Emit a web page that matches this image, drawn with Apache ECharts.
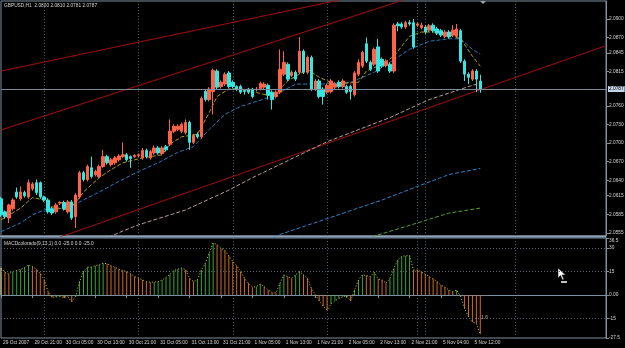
<!DOCTYPE html>
<html>
<head>
<meta charset="utf-8">
<script src="https://cdn.jsdelivr.net/npm/echarts@6/dist/echarts.min.js"></script>
<style>
  html, body { margin: 0; padding: 0; background: #000; }
  #chart { width: 625px; height: 348px; }
</style>
</head>
<body>
<div id="chart"></div>
<script>
// ===================================================
//  DATOS  (GBPUSD H1, 29 Oct 2007 - 5 Nov 2007)
// ===================================================
const timeTicks = ['29 Oct 2007', '29 Oct 21:00', '30 Oct 05:00', '30 Oct 13:00', '30 Oct 21:00',
  '31 Oct 05:00', '31 Oct 13:00', '31 Oct 21:00', '1 Nov 05:00', '1 Nov 13:00', '1 Nov 21:00',
  '2 Nov 05:00', '2 Nov 13:00', '2 Nov 21:00', '5 Nov 04:00', '5 Nov 12:00'];

const opens = [
  2.0610, 2.0589, 2.0579, 2.0594, 2.0621, 2.0610, 2.0620, 2.0613, 2.0626, 2.0636,
  2.0636, 2.0613, 2.0608, 2.0594, 2.0589, 2.0603, 2.0604, 2.0589, 2.0605, 2.0581,
  2.0613, 2.0652, 2.0641, 2.0660, 2.0649, 2.0646, 2.0662, 2.0678, 2.0665, 2.0668,
  2.0673, 2.0678, 2.0681, 2.0678, 2.0678, 2.0680, 2.0676, 2.0688, 2.0676, 2.0684,
  2.0692, 2.0683, 2.0694, 2.0698, 2.0719, 2.0722, 2.0719, 2.0717, 2.0733, 2.0701,
  2.0714, 2.0710, 2.0783, 2.0770, 2.0783, 2.0816, 2.0791, 2.0795, 2.0813, 2.0798,
  2.0791, 2.0791, 2.0785, 2.0787, 2.0787, 2.0786, 2.0788, 2.0790, 2.0793, 2.0782,
  2.0775, 2.0782, 2.0811, 2.0827, 2.0809, 2.0814, 2.0814, 2.0848, 2.0814, 2.0838,
  2.0787, 2.0800, 2.0787, 2.0782, 2.0783, 2.0790, 2.0798, 2.0791, 2.0791, 2.0791,
  2.0778, 2.0811, 2.0824, 2.0860, 2.0830, 2.0827, 2.0855, 2.0835, 2.0825, 2.0827,
  2.0816, 2.0892, 2.0892, 2.0887, 2.0894, 2.0894, 2.0890, 2.0886, 2.0887, 2.0882,
  2.0890, 2.0884, 2.0881, 2.0872, 2.0879, 2.0874, 2.0872, 2.0881, 2.0832, 2.0811,
  2.0803, 2.0816, 2.0800
];
const closes = [
  2.0584, 2.0581, 2.0600, 2.0608, 2.0613, 2.0621, 2.0615, 2.0636, 2.0634, 2.0620,
  2.0613, 2.0608, 2.0589, 2.0587, 2.0600, 2.0604, 2.0594, 2.0605, 2.0579, 2.0616,
  2.0652, 2.0641, 2.0662, 2.0646, 2.0654, 2.0662, 2.0678, 2.0668, 2.0673, 2.0676,
  2.0679, 2.0681, 2.0673, 2.0675, 2.0680, 2.0681, 2.0688, 2.0678, 2.0686, 2.0692,
  2.0684, 2.0692, 2.0689, 2.0719, 2.0727, 2.0727, 2.0730, 2.0733, 2.0701, 2.0712,
  2.0710, 2.0772, 2.0770, 2.0787, 2.0817, 2.0790, 2.0798, 2.0811, 2.0791, 2.0791,
  2.0787, 2.0782, 2.0783, 2.0782, 2.0775, 2.0787, 2.0796, 2.0795, 2.0777, 2.0770,
  2.0782, 2.0819, 2.0830, 2.0803, 2.0814, 2.0803, 2.0848, 2.0814, 2.0838, 2.0787,
  2.0800, 2.0775, 2.0775, 2.0793, 2.0800, 2.0795, 2.0791, 2.0800, 2.0782, 2.0783,
  2.0813, 2.0830, 2.0846, 2.0832, 2.0819, 2.0851, 2.0816, 2.0824, 2.0832, 2.0816,
  2.0890, 2.0889, 2.0887, 2.0894, 2.0892, 2.0855, 2.0892, 2.0890, 2.0879, 2.0889,
  2.0881, 2.0877, 2.0874, 2.0879, 2.0871, 2.0882, 2.0884, 2.0832, 2.0811, 2.0806,
  2.0816, 2.0803, 2.0787
];
const highs = [
  2.0613, 2.0591, 2.0602, 2.0611, 2.0628, 2.0630, 2.0623, 2.0641, 2.0637, 2.0641,
  2.0638, 2.0615, 2.0611, 2.0597, 2.0603, 2.0606, 2.0607, 2.0608, 2.0608, 2.0619,
  2.0655, 2.0655, 2.0665, 2.0678, 2.0657, 2.0665, 2.0689, 2.0681, 2.0676, 2.0679,
  2.0682, 2.0701, 2.0684, 2.0680, 2.0682, 2.0683, 2.0692, 2.0691, 2.0689, 2.0696,
  2.0695, 2.0695, 2.0697, 2.0738, 2.0730, 2.0730, 2.0733, 2.0738, 2.0736, 2.0715,
  2.0717, 2.0775, 2.0786, 2.0790, 2.0820, 2.0819, 2.0801, 2.0814, 2.0816, 2.0801,
  2.0793, 2.0794, 2.0787, 2.0789, 2.0789, 2.0790, 2.0799, 2.0798, 2.0796, 2.0785,
  2.0785, 2.0851, 2.0848, 2.0830, 2.0817, 2.0817, 2.0871, 2.0851, 2.0841, 2.0841,
  2.0803, 2.0803, 2.0790, 2.0796, 2.0803, 2.0798, 2.0801, 2.0803, 2.0794, 2.0794,
  2.0816, 2.0835, 2.0849, 2.0870, 2.0833, 2.0854, 2.0868, 2.0838, 2.0835, 2.0830,
  2.0893, 2.0895, 2.0895, 2.0897, 2.0898, 2.0900, 2.0895, 2.0894, 2.0890, 2.0892,
  2.0893, 2.0887, 2.0884, 2.0882, 2.0882, 2.0890, 2.0892, 2.0884, 2.0835, 2.0814,
  2.0819, 2.0819, 2.0810
];
const lows = [
  2.0581, 2.0578, 2.0571, 2.0591, 2.0610, 2.0607, 2.0612, 2.0610, 2.0623, 2.0616,
  2.0610, 2.0605, 2.0586, 2.0584, 2.0586, 2.0600, 2.0591, 2.0586, 2.0576, 2.0563,
  2.0610, 2.0638, 2.0638, 2.0643, 2.0646, 2.0643, 2.0660, 2.0665, 2.0662, 2.0665,
  2.0670, 2.0676, 2.0670, 2.0660, 2.0676, 2.0677, 2.0673, 2.0675, 2.0673, 2.0681,
  2.0681, 2.0680, 2.0686, 2.0695, 2.0716, 2.0719, 2.0716, 2.0714, 2.0689, 2.0698,
  2.0707, 2.0707, 2.0767, 2.0767, 2.0746, 2.0787, 2.0788, 2.0792, 2.0788, 2.0788,
  2.0784, 2.0779, 2.0778, 2.0779, 2.0772, 2.0783, 2.0785, 2.0787, 2.0770, 2.0754,
  2.0772, 2.0779, 2.0808, 2.0800, 2.0806, 2.0800, 2.0811, 2.0811, 2.0811, 2.0784,
  2.0784, 2.0772, 2.0762, 2.0779, 2.0780, 2.0787, 2.0788, 2.0788, 2.0779, 2.0770,
  2.0775, 2.0808, 2.0821, 2.0829, 2.0816, 2.0824, 2.0813, 2.0821, 2.0822, 2.0813,
  2.0813, 2.0880, 2.0884, 2.0884, 2.0889, 2.0852, 2.0887, 2.0883, 2.0876, 2.0879,
  2.0878, 2.0874, 2.0871, 2.0869, 2.0868, 2.0871, 2.0869, 2.0829, 2.0800, 2.0795,
  2.0800, 2.0782, 2.0781
];
const lastPrice = 2.0787;

// medias moviles: [barra, precio]
const maFast = [[0, 2.0576], [5, 2.0595], [8, 2.0612], [11, 2.0608], [13, 2.0597], [17, 2.0592],
  [19, 2.0604], [21, 2.0621], [25, 2.0644], [28, 2.0657], [31, 2.0668], [36, 2.0676], [41, 2.0681],
  [43, 2.0698], [46, 2.0710], [50, 2.0714], [53, 2.0749], [55, 2.0775], [58, 2.0787], [61, 2.0788],
  [69, 2.0775], [73, 2.0800], [78, 2.0819], [81, 2.0806], [85, 2.0795], [91, 2.0798], [93, 2.0816],
  [97, 2.0827], [100, 2.0840], [104, 2.0872], [107, 2.0879], [112, 2.0879], [117, 2.0868],
  [120, 2.0840], [122, 2.0824]];
const maMid = [[0, 2.0557], [5, 2.0571], [8, 2.0584], [11, 2.0592], [17, 2.0595], [20, 2.0605],
  [25, 2.0621], [30, 2.0638], [35, 2.0654], [40, 2.0668], [45, 2.0685], [49, 2.0694], [53, 2.0722],
  [57, 2.0746], [61, 2.0759], [69, 2.0775], [75, 2.0795], [82, 2.0795], [89, 2.0798], [95, 2.0814],
  [99, 2.0830], [104, 2.0851], [109, 2.0864], [114, 2.0868], [117, 2.0868], [120, 2.0851], [122, 2.0843]];
const maSlow = [[26, 2.0544], [31, 2.0558], [35, 2.0568], [47, 2.0592], [58, 2.0624], [64, 2.0644],
  [83, 2.0702], [99, 2.0741], [109, 2.0770], [120, 2.0793], [122, 2.0796]];
const maLong = [[68, 2.0546], [83, 2.0578], [97, 2.0608], [106, 2.0630], [114, 2.0649], [122, 2.0659]];
const maLonger = [[93, 2.0546], [106, 2.0571], [114, 2.0587], [122, 2.0595]];

// lineas de tendencia (objetos dibujados)
const trendLines = [
  [[0, 2.0816], [100, 2.0949]],
  [[0, 2.0721], [110, 2.0946]],
  [[14, 2.0546], [154, 2.0857]]
];

const macd = [
  17.4, 14.4, 13.5, 15.0, 15.7, 16.5, 17.6, 19.3, 18.2, 16.5,
  14.0, 9.7, 2.1, -1.5, -1.2, -1.1, -1.5, -1.0, -4.3, -1.0,
  8.6, 15.0, 17.8, 18.0, 18.7, 19.3, 20.4, 20.0, 18.7, 17.8,
  16.5, 15.7, 15.0, 13.5, 11.8, 10.7, 9.7, 8.6, 8.2, 8.3,
  8.6, 9.7, 11.2, 13.3, 15.7, 16.5, 17.2, 16.2, 10.7, 8.6,
  9.7, 16.1, 20.4, 26.8, 33.3, 32.2, 30.0, 28.5, 25.1, 21.5,
  18.7, 15.0, 10.7, 7.5, 5.0, 5.4, 7.1, 5.4, 3.2, 1.5,
  1.4, 7.5, 12.9, 11.8, 10.7, 12.9, 15.0, 12.9, 10.7, 4.3,
  0.3, -3.7, -7.1, -9.7, -5.8, -3.7, -2.2, -1.1, -0.6, -3.7,
  3.2, 9.7, 12.9, 12.5, 11.8, 14.6, 10.2, 9.7, 7.5, 10.7,
  17.2, 22.5, 24.7, 25.1, 25.3, 16.1, 16.0, 14.8, 13.3, 11.8,
  10.2, 8.6, 6.4, 5.0, 3.2, 2.1, 3.2, -1.0, -8.6, -14.0,
  -17.2, -18.2, -25.0
];
const macdLevels = [30, 15, -15];

const priceTicks = [2.0900, 2.0870, 2.0845, 2.0815, 2.0760, 2.0730, 2.0700, 2.0670, 2.0640, 2.0615, 2.0585, 2.0555];
const macdTicks = [36.5, 30, 15, 0, -15, -27.5];

// ===================================================
//  GRAFICO
// ===================================================
(function () {
    const el = document.getElementById('chart');
    if (!el || typeof echarts === 'undefined') return;
    const myChart = echarts.init(el);

    const SLOTS = 155;                         // barras + espacio a la derecha
    const slots = Array.from({ length: SLOTS }, (_, i) => String(i));
    const gridBars = [11, 35, 59, 83, 106, 108, 131];
    const FONT = 'Liberation Sans';
    const TXT = '#d6d6d6';
    const FRAME = '#7d90a2';
    const DOT = '#3e5e68';

    const candles = opens.map((o, i) => [o, closes[i], lows[i], highs[i]]);
    const isTimeTick = idx => idx % 8 === 0 && idx / 8 < timeTicks.length;
    const vGrid = { show: true, interval: idx => gridBars.includes(idx), lineStyle: { color: DOT, type: [1, 2], width: 1 } };

    const maLine = (data, color, extra) => Object.assign({
        type: 'line', data: data, xAxisIndex: 0, yAxisIndex: 0, symbol: 'none', silent: true,
        lineStyle: { color: color, width: 1, type: [4, 2] }, z: 3
    }, extra || {});

    // linea del precio actual (bid) - precision 4 para no redondear
    const bidLine = {
        markLine: {
            silent: true, symbol: 'none', animation: false, precision: 4,
            lineStyle: { color: '#7b8a9b', type: 'solid', width: 1 },
            label: { position: 'end', distance: 2, formatter: lastPrice.toFixed(4), fontSize: 4.8, fontFamily: FONT,
                     color: '#000', backgroundColor: '#c4d4e4', padding: [1, 1, 0, 1] },
            data: [{ yAxis: lastPrice }]
        }
    };

    const option = {
        backgroundColor: '#000',
        animation: false,
        textStyle: { fontFamily: FONT },
        grid: [
            { left: 1, right: 19, top: 1, height: 235, show: true, borderColor: FRAME, borderWidth: 1, outerBoundsMode: 'none', containLabel: false },
            { left: 1, right: 19, top: 238, height: 100, show: true, borderColor: FRAME, borderWidth: 1, outerBoundsMode: 'none', containLabel: false }
        ],
        xAxis: [
            { type: 'category', gridIndex: 0, data: slots, boundaryGap: false,
              axisLine: { show: false }, axisTick: { show: false }, axisLabel: { show: false }, splitLine: vGrid },
            { type: 'category', gridIndex: 1, data: slots, boundaryGap: false,
              axisLine: { show: true, lineStyle: { color: FRAME } },
              axisTick: { show: true, interval: isTimeTick, length: 3, lineStyle: { color: FRAME } },
              axisLabel: { show: true, interval: isTimeTick, align: 'left', margin: 2, padding: [0, 0, 0, 2],
                           fontSize: 4.8, color: TXT, fontFamily: FONT,
                           formatter: (v, idx) => timeTicks[idx / 8] || '' },
              splitLine: vGrid }
        ],
        yAxis: [
            { type: 'value', gridIndex: 0, position: 'right', min: 2.0550, max: 2.0929,
              axisLine: { show: true, lineStyle: { color: FRAME } },
              axisTick: { show: true, length: 3, customValues: priceTicks, lineStyle: { color: FRAME } },
              axisLabel: { show: true, customValues: priceTicks, margin: 3, fontSize: 4.8, color: TXT, fontFamily: FONT,
                           formatter: v => v.toFixed(4) },
              splitLine: { show: false } },
            { type: 'value', gridIndex: 1, position: 'right', min: -27.5, max: 36.5,
              axisLine: { show: true, lineStyle: { color: FRAME } },
              axisTick: { show: true, length: 3, customValues: macdTicks, lineStyle: { color: FRAME } },
              axisLabel: { show: true, customValues: macdTicks, margin: 3, fontSize: 4.8, color: TXT, fontFamily: FONT,
                           formatter: v => (v === 36.5 ? '{t|36.5}' : v === 0 ? '0.00' : String(v)),
                           rich: { t: { fontSize: 4.8, color: TXT, fontFamily: FONT, padding: [6, 0, 0, 0] } } },
              splitLine: { show: false } }
        ],
        series: [
            // lineas de tendencia
            ...trendLines.map(seg => ({
                type: 'line', data: seg, xAxisIndex: 0, yAxisIndex: 0, symbol: 'none', silent: true,
                lineStyle: { color: '#a50d0d', width: 1 }, z: 2
            })),
            maLine(maLonger, '#5a9c3c'),
            maLine(maLong, '#2f80c4'),
            maLine(maSlow, '#b89b9b'),
            maLine(maMid, '#2a78b8'),
            maLine(maFast, '#b39a1c', bidLine),
            {
                type: 'candlestick', data: candles, xAxisIndex: 0, yAxisIndex: 0, barWidth: 3, z: 4,
                itemStyle: { color: '#ff6347', color0: '#36e6e0', borderColor: '#ff6347', borderColor0: '#36e6e0', borderWidth: 1 }
            },
            // MACD coloreado
            {
                type: 'bar', data: macd, xAxisIndex: 1, yAxisIndex: 1, barWidth: 1, z: 2,
                itemStyle: { color: p => (p.dataIndex === 0 ? '#e6d88c' : (macd[p.dataIndex] >= macd[p.dataIndex - 1] ? '#33a833' : '#d2691e')) },
                markLine: {
                    silent: true, symbol: 'none', animation: false, label: { show: false },
                    lineStyle: { color: '#58626c', type: [1, 2], width: 1 },
                    data: macdLevels.map(v => ({ yAxis: v }))
                }
            },
            {
                type: 'line', data: macd, xAxisIndex: 1, yAxisIndex: 1, symbol: 'none', silent: true, z: 3,
                lineStyle: { color: '#d8cc10', width: 1, type: [1, 2] }
            }
        ],
        graphic: [
            { type: 'rect', shape: { x: 0, y: 235.5, width: 606, height: 2 }, style: { fill: '#8fa4b8' }, silent: true },
            { type: 'text', x: 4, y: 3, style: { text: 'GBPUSD,H1  2.0800 2.0810 2.0781 2.0787', fill: TXT, font: '4.8px "Liberation Sans"' } },
            { type: 'text', x: 4, y: 241, style: { text: 'MACDcolorado(9,13,1) 0.0 -25.0 0.0 -25.0', fill: TXT, font: '4.8px "Liberation Sans"' } },
            { type: 'text', x: 481, y: 315, style: { text: '1.6', fill: '#b8b8b8', font: '5px "Liberation Sans"' } },
            { type: 'polygon', shape: { points: [[480, 1], [486, 1], [483, 4]] }, style: { fill: '#9aa6b2' } },
            { type: 'polygon', shape: { points: [[558, 268], [558, 278], [560.5, 275.5], [562.5, 280], [564, 279.3], [562, 275], [565.5, 275]] },
              style: { fill: '#ffffff', stroke: '#000', lineWidth: 0.5 } },
            { type: 'rect', shape: { x: 561, y: 281, width: 6, height: 2 }, style: { fill: '#c0c0c0' } }
        ]
    };

    myChart.setOption(option);
})();
</script>
</body>
</html>
